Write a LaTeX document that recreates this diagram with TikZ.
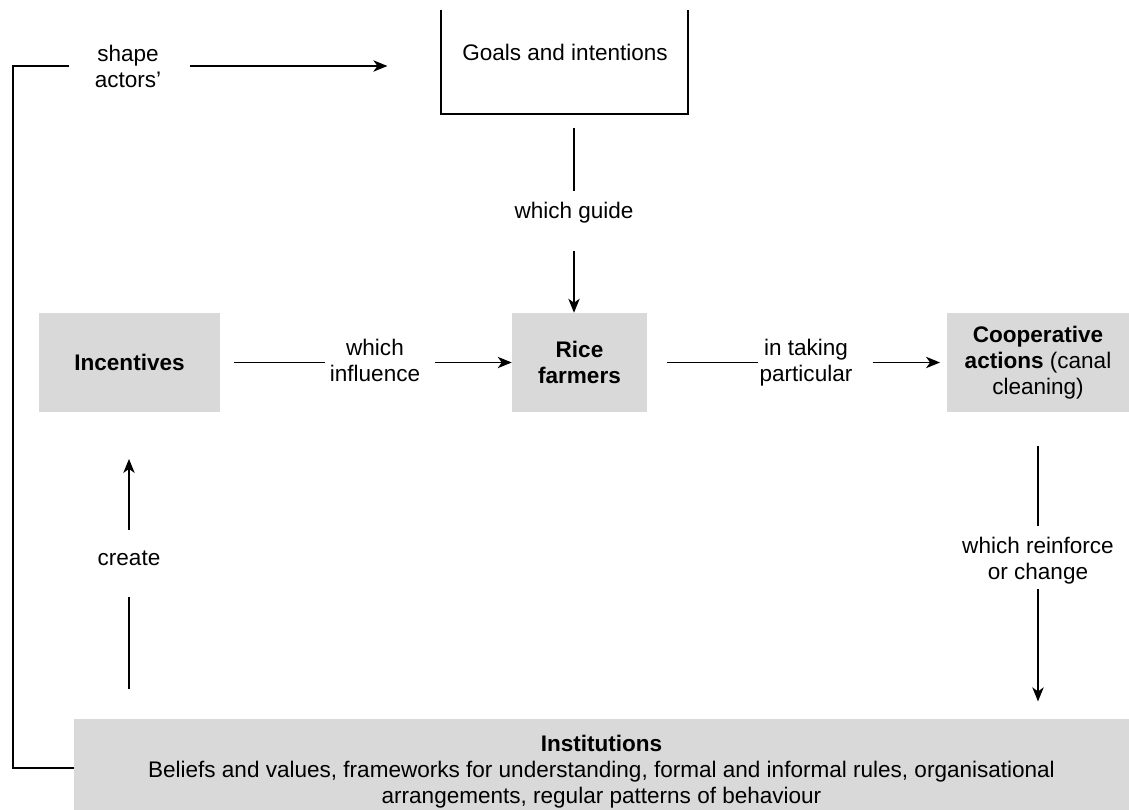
\documentclass[tikz,border=0pt]{standalone}
\usepackage{fontspec}
\setmainfont{Liberation Sans}
\usetikzlibrary{arrows.meta}
\definecolor{boxgrey}{RGB}{217,217,217}
\tikzset{
  greybox/.style={fill=boxgrey,align=center,inner sep=2pt},
  lbl/.style={align=center},
  link/.style={line width=1.2pt},
}

\begin{document}
\begin{tikzpicture}[x=0.75pt,y=-0.75pt,>={Stealth[length=10.5pt,width=8.5pt,inset=3pt]},
    every node/.style={font=\fontsize{16.9}{19.5}\selectfont}]
    \useasboundingbox (0,0) rectangle (1129,810);

    % boxes
    \node[minimum width=247*0.75pt,minimum height=104*0.75pt] (goals) at (564.5,62) {};
    \draw[link] (goals.north west) -- (goals.south west) -- (goals.south east) -- (goals.north east);
    \node (goaltxt) at (565,52) {Goals and intentions};
    \node[greybox,minimum width=181*0.75pt,minimum height=99*0.75pt] (inc) at (129.5,362.5) {\textbf{Incentives}};
    \node[greybox,minimum width=135*0.75pt,minimum height=99*0.75pt] (rice) at (579.5,362.5) {\textbf{Rice}\\\textbf{farmers}};
    \node[greybox,minimum width=182*0.75pt,minimum height=99*0.75pt] (coop) at (1038,362.5) {\textbf{Cooperative}\\\textbf{actions} (canal\\cleaning)};
    \node[greybox,minimum width=1055*0.75pt,minimum height=106*0.75pt] (inst) at (601.5,772) {\textbf{Institutions}\\Beliefs and values, frameworks for understanding, formal and informal rules, organisational\\arrangements, regular patterns of behaviour};

    % labels on the links
    \node[lbl] (shape) at (128,66) {shape\\actors'};
    \node[lbl] (guide) at (574,213) {which guide};
    \node[lbl] (infl) at (375,360) {which\\influence};
    \node[lbl,inner sep=1pt] (taking) at (806,362.5) {in taking\\particular};
    \node[lbl] (reinf) at (1038,561) {which reinforce\\or change};
    \node[lbl] (create) at (129,558) {create};
    \coordinate (loopturn) at (13,768);

    % links
    \draw[link,shorten <=10pt,shorten >=5pt] (goals.south -| guide) -- (guide);
    \draw[link,->,shorten <=17pt] (guide) -- (guide |- rice.north);
    \draw[link,shorten <=10pt] (inc) -- (inc -| infl.west);
    \draw[link,->,shorten <=8pt] (infl.east |- rice) -- (rice);
    \draw[link,shorten <=15pt] (rice) -- (taking);
    \draw[link,->,shorten <=14pt,shorten >=5pt] (taking) -- (coop);
    \draw[link,shorten <=25pt,shorten >=5pt] (coop) -- (reinf);
    \draw[link,->,shorten >=13pt] (reinf) -- (reinf |- inst.north);
    \draw[link,shorten <=22pt,shorten >=20pt] (inst.north -| create) -- (create);
    \draw[link,->,shorten <=12pt,shorten >=35pt] (create) -- (create |- inc.south);
    \draw[link,shorten >=16pt] (loopturn -| inst.west) -- (loopturn) |- (shape);
    \draw[link,->,shorten <=18pt,shorten >=40pt] (shape) -- (shape -| goals.west);
\end{tikzpicture}
\end{document}
